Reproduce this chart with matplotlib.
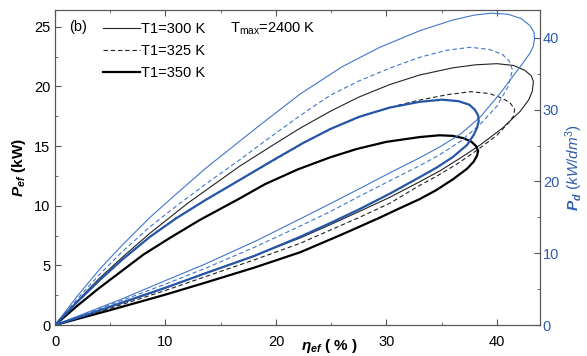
import matplotlib
matplotlib.use('Agg')
import matplotlib.pyplot as plt
from matplotlib.ticker import MultipleLocator

plt.rcParams['font.family'] = ['Liberation Sans', 'DejaVu Sans']
plt.rcParams['mathtext.fontset'] = 'custom'
plt.rcParams['mathtext.rm'] = 'Liberation Sans'
plt.rcParams['mathtext.it'] = 'Liberation Sans:italic'
plt.rcParams['mathtext.bf'] = 'Liberation Sans:bold:italic'

# effective power P_ef (left axis); each loop = upper branch, turn, lower branch back to 0
eta_300 = [0, 2, 4, 6, 8.6, 12, 16.7, 19.5, 22.2, 24.9, 27.5, 30.3, 33, 36, 38, 40, 41.5, 42.5, 43.1, 43.3,
           43.2, 42.9, 42.1, 40.5, 38.5, 36.7, 34.8, 33, 30.3, 27.5, 24.9, 22.2, 18, 13.6, 10, 5, 0]
pef_300 = [0, 2.0, 3.9, 5.6, 7.7, 10.2, 13.3, 14.95, 16.5, 17.9, 19.1, 20.15, 20.95, 21.55, 21.8, 21.9, 21.75, 21.35, 20.9, 20.4,
           19.6, 18.9, 17.9, 16.5, 15.1, 14.0, 12.9, 12.0, 10.7, 9.5, 8.4, 7.3, 5.8, 4.35, 3.1, 1.5, 0]

eta_325 = [0, 2, 4, 6, 8.6, 11, 13.6, 16.7, 20, 22.5, 24.9, 28, 31, 33, 35.5, 37.6, 39.3, 40.5, 41.2, 41.6,
           41.5, 41.0, 40.0, 38.2, 36.4, 34.5, 33, 30.3, 27.5, 24.9, 22.2, 18, 13.6, 10, 5, 0]
pef_325 = [0, 1.9, 3.7, 5.4, 7.4, 9.0, 10.45, 12.15, 13.9, 15.25, 16.4, 17.6, 18.4, 18.85, 19.3, 19.55, 19.4, 19.0, 18.6, 18.1,
           17.5, 16.9, 15.9, 14.65, 13.5, 12.45, 11.7, 10.2, 9.0, 7.95, 6.85, 5.45, 4.05, 2.9, 1.4, 0]

eta_350 = [0, 2, 4, 6, 8, 10.4, 13.1, 16.7, 19, 22, 24.9, 27.3, 30, 33, 34.8, 36, 37, 37.7, 38.1, 38.3,
           38.2, 37.9, 37.3, 36, 34.5, 33, 31, 29.4, 26, 22.2, 18, 13.6, 10, 5, 0]
pef_350 = [0, 1.6, 3.1, 4.5, 5.9, 7.3, 8.8, 10.6, 11.8, 13.05, 14.05, 14.75, 15.35, 15.75, 15.9, 15.85, 15.65, 15.35, 15.0, 14.6,
           14.2, 13.7, 13.1, 12.2, 11.3, 10.55, 9.7, 9.0, 7.6, 6.1, 4.8, 3.55, 2.55, 1.25, 0]

# power density P_d (right axis)
eta_d300 = [0, 2, 4, 6, 8.6, 11, 13.6, 15.4, 18.5, 22.2, 26, 29.4, 33, 36, 38, 39.5, 41, 42.2, 43.0, 43.35, 43.4,
            43.3, 43.0, 42.1, 40.3, 38.5, 36.7, 34.8, 33, 30.3, 27.5, 24.9, 22.2, 18.3, 13.6, 10, 6, 3, 0]
pd_300 = [0, 4.0, 7.7, 11.0, 15.0, 18.3, 21.8, 24.0, 27.8, 32.2, 36.0, 38.7, 41.0, 42.5, 43.2, 43.45, 43.3, 42.7, 41.7, 40.8, 39.9,
          38.9, 37.9, 36.0, 32.3, 29.0, 26.6, 24.8, 23.3, 21.2, 18.95, 16.9, 14.8, 11.8, 8.5, 6.2, 3.6, 1.8, 0]

eta_d325 = [0, 2, 4, 6, 8.6, 11, 13.6, 16.7, 19.5, 22.2, 24.9, 27.5, 30.3, 33, 35.5, 37.6, 39.3, 40.5, 41.1, 41.4,
            41.2, 41.0, 40.0, 38.5, 36.7, 34.8, 33, 30.3, 27.5, 24.9, 22.2, 18, 13.6, 10, 6, 3, 0]
pd_325 = [0, 3.6, 7.0, 10.1, 13.7, 16.6, 19.6, 23.0, 26.2, 29.2, 32.0, 34.0, 35.8, 37.3, 38.3, 38.7, 38.4, 37.7, 36.8, 35.6,
          34.3, 33.2, 30.5, 28.0, 25.6, 23.7, 22.2, 20.1, 17.9, 15.8, 13.8, 10.8, 7.9, 5.7, 3.4, 1.7, 0]

eta_d350 = [0, 2, 4, 6, 8.6, 11, 13.6, 16.7, 20, 22.5, 24.9, 27.5, 30.3, 33, 35, 36.5, 37.5, 38.0, 38.3, 38.35,
            38.2, 37.9, 37.3, 36, 34.5, 33, 30.3, 27.5, 24.9, 22.2, 18, 13.6, 10, 6, 3, 0]
pd_350 = [0, 3.2, 6.2, 9.0, 12.3, 14.9, 17.4, 20.2, 23.2, 25.4, 27.3, 29.0, 30.3, 31.1, 31.4, 31.2, 30.7, 30.0, 29.2, 28.4,
          27.5, 26.5, 25.1, 23.4, 21.9, 20.6, 18.3, 16.1, 14.2, 12.3, 9.6, 7.2, 5.2, 3.1, 1.5, 0]

labels = ['T1=300 K', 'T1=325 K', 'T1=350 K']
blue = '#4076cc'
blue_dark = '#2656aa'
axis_blue = '#2f5db0'

fig = plt.figure(figsize=(5.87, 3.56), dpi=100)
ax = fig.add_axes([0.0937, 0.087, 0.8263, 0.885])
ax2 = ax.twinx()

ax.plot(eta_300, pef_300, color='#222222', lw=0.8, label=labels[0])
ax.plot(eta_325, pef_325, color='#222222', lw=0.8, ls=(0, (4, 2.5)), label=labels[1])
ax.plot(eta_350, pef_350, color='black', lw=1.6, label=labels[2])

ax2.plot(eta_d300, pd_300, color=blue, lw=0.8)
ax2.plot(eta_d325, pd_325, color=blue, lw=0.8, ls=(0, (4, 2.5)))
ax2.plot(eta_d350, pd_350, color=blue_dark, lw=1.6)

ax.set_xlim(0, 43.9)
ax.set_ylim(0, 26.4)
ax2.set_ylim(0, 43.9)

ax.xaxis.set_major_locator(MultipleLocator(10))
ax.xaxis.set_minor_locator(MultipleLocator(5))
ax.yaxis.set_major_locator(MultipleLocator(5))
ax.yaxis.set_minor_locator(MultipleLocator(2.5))
ax2.yaxis.set_major_locator(MultipleLocator(10))
ax2.yaxis.set_minor_locator(MultipleLocator(5))

ax.tick_params(axis='x', which='both', direction='in', top=True, labelsize=10.5, pad=7)
ax.tick_params(axis='y', which='both', direction='in', labelsize=10.5)
ax.tick_params(which='major', length=4, color='#555555')
ax.tick_params(which='minor', length=2.5, color='#555555')
ax2.tick_params(axis='y', which='both', direction='in', labelsize=10.5, labelcolor=axis_blue, pad=2)
ax2.tick_params(which='major', length=4, color='#555555')
ax2.tick_params(which='minor', length=2.5, color='#555555')

for a in (ax, ax2):
    for s in a.spines.values():
        s.set_color('#555555')
        s.set_linewidth(0.8)

ax.set_xlabel(r'$\mathbf{\eta_{ef}}$ ( % )', fontsize=11, fontweight='bold')
ax.xaxis.set_label_coords(0.565, -0.068)
ax.xaxis.label.set_va('center')
ax.set_ylabel(r'$\mathbf{P_{ef}}$ (kW)', fontsize=11, fontweight='bold', labelpad=4)
ax2.set_ylabel(r'$\mathbf{P_d}$ $(kW/dm^3)$', fontsize=11, color=axis_blue, labelpad=3)

ax.text(1.3, 25.0, '(b)', fontsize=10.5, va='center')
ax.text(15.8, 24.8, r'T$_{\rm max}$=2400 K', fontsize=10.5, va='center')

ax.legend(loc='upper left', bbox_to_anchor=(0.077, 0.995), frameon=False, fontsize=10.5,
          handlelength=2.6, handletextpad=0.05, labelspacing=0.55, borderaxespad=0.3)

fig.savefig('out.png', dpi=100)
